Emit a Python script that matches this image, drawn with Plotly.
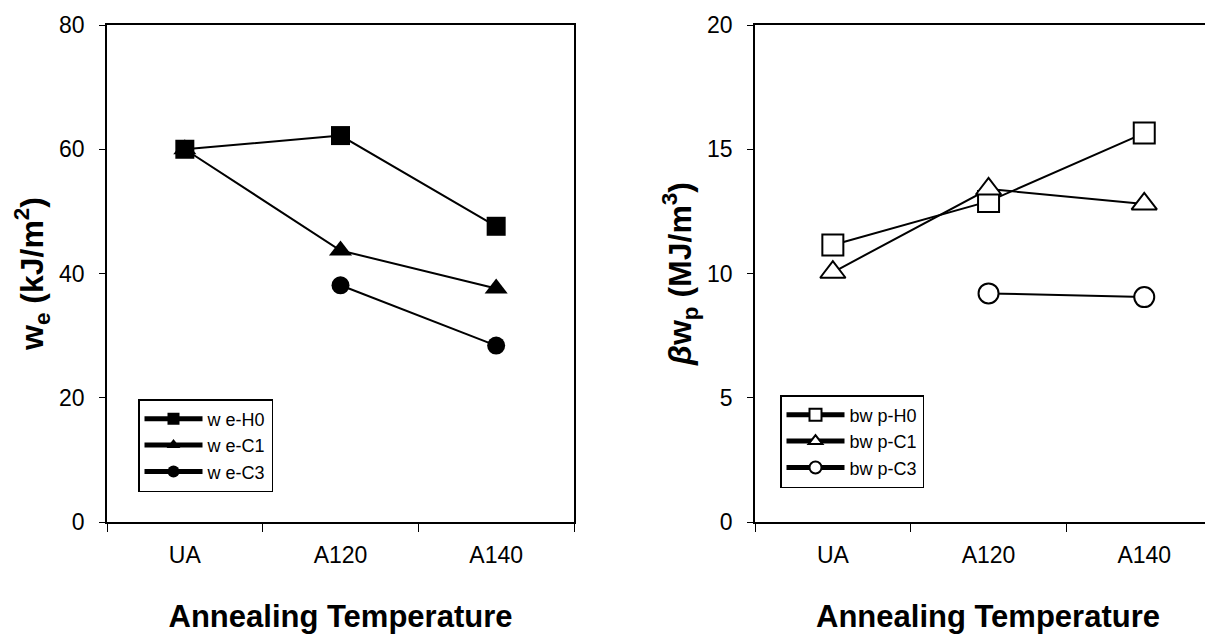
import plotly.graph_objects as go

categories = ["UA", "A120", "A140"]

we_H0 = [60.0, 62.2, 47.6]
we_C1 = [60.0, 43.7, 37.6]
we_C3 = [None, 38.1, 28.4]

bwp_H0 = [11.15, 12.9, 15.65]
bwp_C1 = [10.05, 13.4, 12.8]
bwp_C3 = [None, 9.2, 9.05]

left_names = ["w e-H0", "w e-C1", "w e-C3"]
right_names = ["bw p-H0", "bw p-C1", "bw p-C3"]

W, H = 1213, 635
FONT = "Liberation Sans, Arial, sans-serif"

fig = go.Figure()

left_series = [we_H0, we_C1, we_C3]
right_series = [bwp_H0, bwp_C1, bwp_C3]
symbols = ["square", "triangle-up", "circle"]
fill_sizes = [19, 20, 18]
open_sizes = [21, 22, 20]

for i, (name, ys, sym, sz) in enumerate(zip(left_names, left_series, symbols, fill_sizes)):
    fig.add_trace(go.Scatter(
        x=categories, y=ys, name=name, mode="lines+markers",
        line=dict(color="black", width=2),
        marker=dict(symbol=sym, size=sz, color="black"),
        xaxis="x", yaxis="y", legend="legend", legendgroup=f"L{i}",
        connectgaps=False,
    ))

for i, (name, ys, sym, sz) in enumerate(zip(right_names, right_series, symbols, open_sizes)):
    fig.add_trace(go.Scatter(
        x=categories, y=ys, name=name, mode="lines+markers",
        line=dict(color="black", width=2),
        marker=dict(symbol=sym, size=sz, color="white",
                    line=dict(color="black", width=2)),
        xaxis="x2", yaxis="y2", legend="legend2", legendgroup=f"R{i}",
        connectgaps=False,
    ))

OX, OY = 8, 8
ydom = [1 - (522 - OY) / H, 1 - (25 - OY) / H]
lx0, lx1 = (107 - OX) / W, (574 - OX) / W
rx0 = (755 - OX) / W
r_hi = -0.5 + (W - 755 + OX) / 155.7

common_x = dict(
    type="category", categoryorder="array", categoryarray=categories,
    showline=True, linecolor="black", linewidth=1.5, mirror=True,
    ticks="outside", ticklen=8, tickcolor="black", tickson="boundaries",
    showgrid=False, zeroline=False, ticklabelstandoff=12,
    tickfont=dict(family=FONT, size=23, color="black"),
    title=dict(text="<b>Annealing Temperature</b>",
               font=dict(family=FONT, size=31, color="black"), standoff=38),
)
common_y = dict(
    showline=True, linecolor="black", linewidth=1.5,
    ticks="outside", ticklen=6, tickcolor="black",
    showgrid=False, zeroline=False, ticklabelstandoff=10,
    tickfont=dict(family=FONT, size=23, color="black"),
)

legend_common = dict(
    xanchor="left", yanchor="top",
    bgcolor="white", bordercolor="black", borderwidth=1.5,
    font=dict(family=FONT, size=18, color="black"),
    itemsizing="constant", tracegroupgap=0, itemwidth=58,
)

fig.update_layout(
    width=W, height=H,
    margin=dict(l=0, r=0, t=0, b=0, autoexpand=False),
    paper_bgcolor="white", plot_bgcolor="white",
    font=dict(family=FONT, color="black"),
    xaxis=dict(domain=[lx0, lx1], anchor="y", range=[-0.5, 2.5], **common_x),
    yaxis=dict(domain=ydom, anchor="x", range=[0, 80], dtick=20, mirror=True,
               title=dict(text="<b>w<sub>e</sub> (kJ/m<sup>2</sup>)</b>",
                          font=dict(family=FONT, size=32, color="black"),
                          standoff=6),
               **common_y),
    xaxis2=dict(domain=[rx0, 1.0], anchor="y2", range=[-0.5, r_hi], **common_x),
    yaxis2=dict(domain=ydom, anchor="x2", range=[0, 20], dtick=5, mirror=False,
                title=dict(text="<b><i>β</i>w<sub>p</sub> (MJ/m<sup>3</sup>)</b>",
                           font=dict(family=FONT, size=32, color="black"),
                           standoff=6),
                **common_y),
    legend=dict(x=(138 - OX) / W, y=1 - (399 - OY) / H, **legend_common),
    legend2=dict(x=(780 - OX) / W, y=1 - (395 - OY) / H, **legend_common),
    showlegend=True,
)

fig.write_html("out.html")
